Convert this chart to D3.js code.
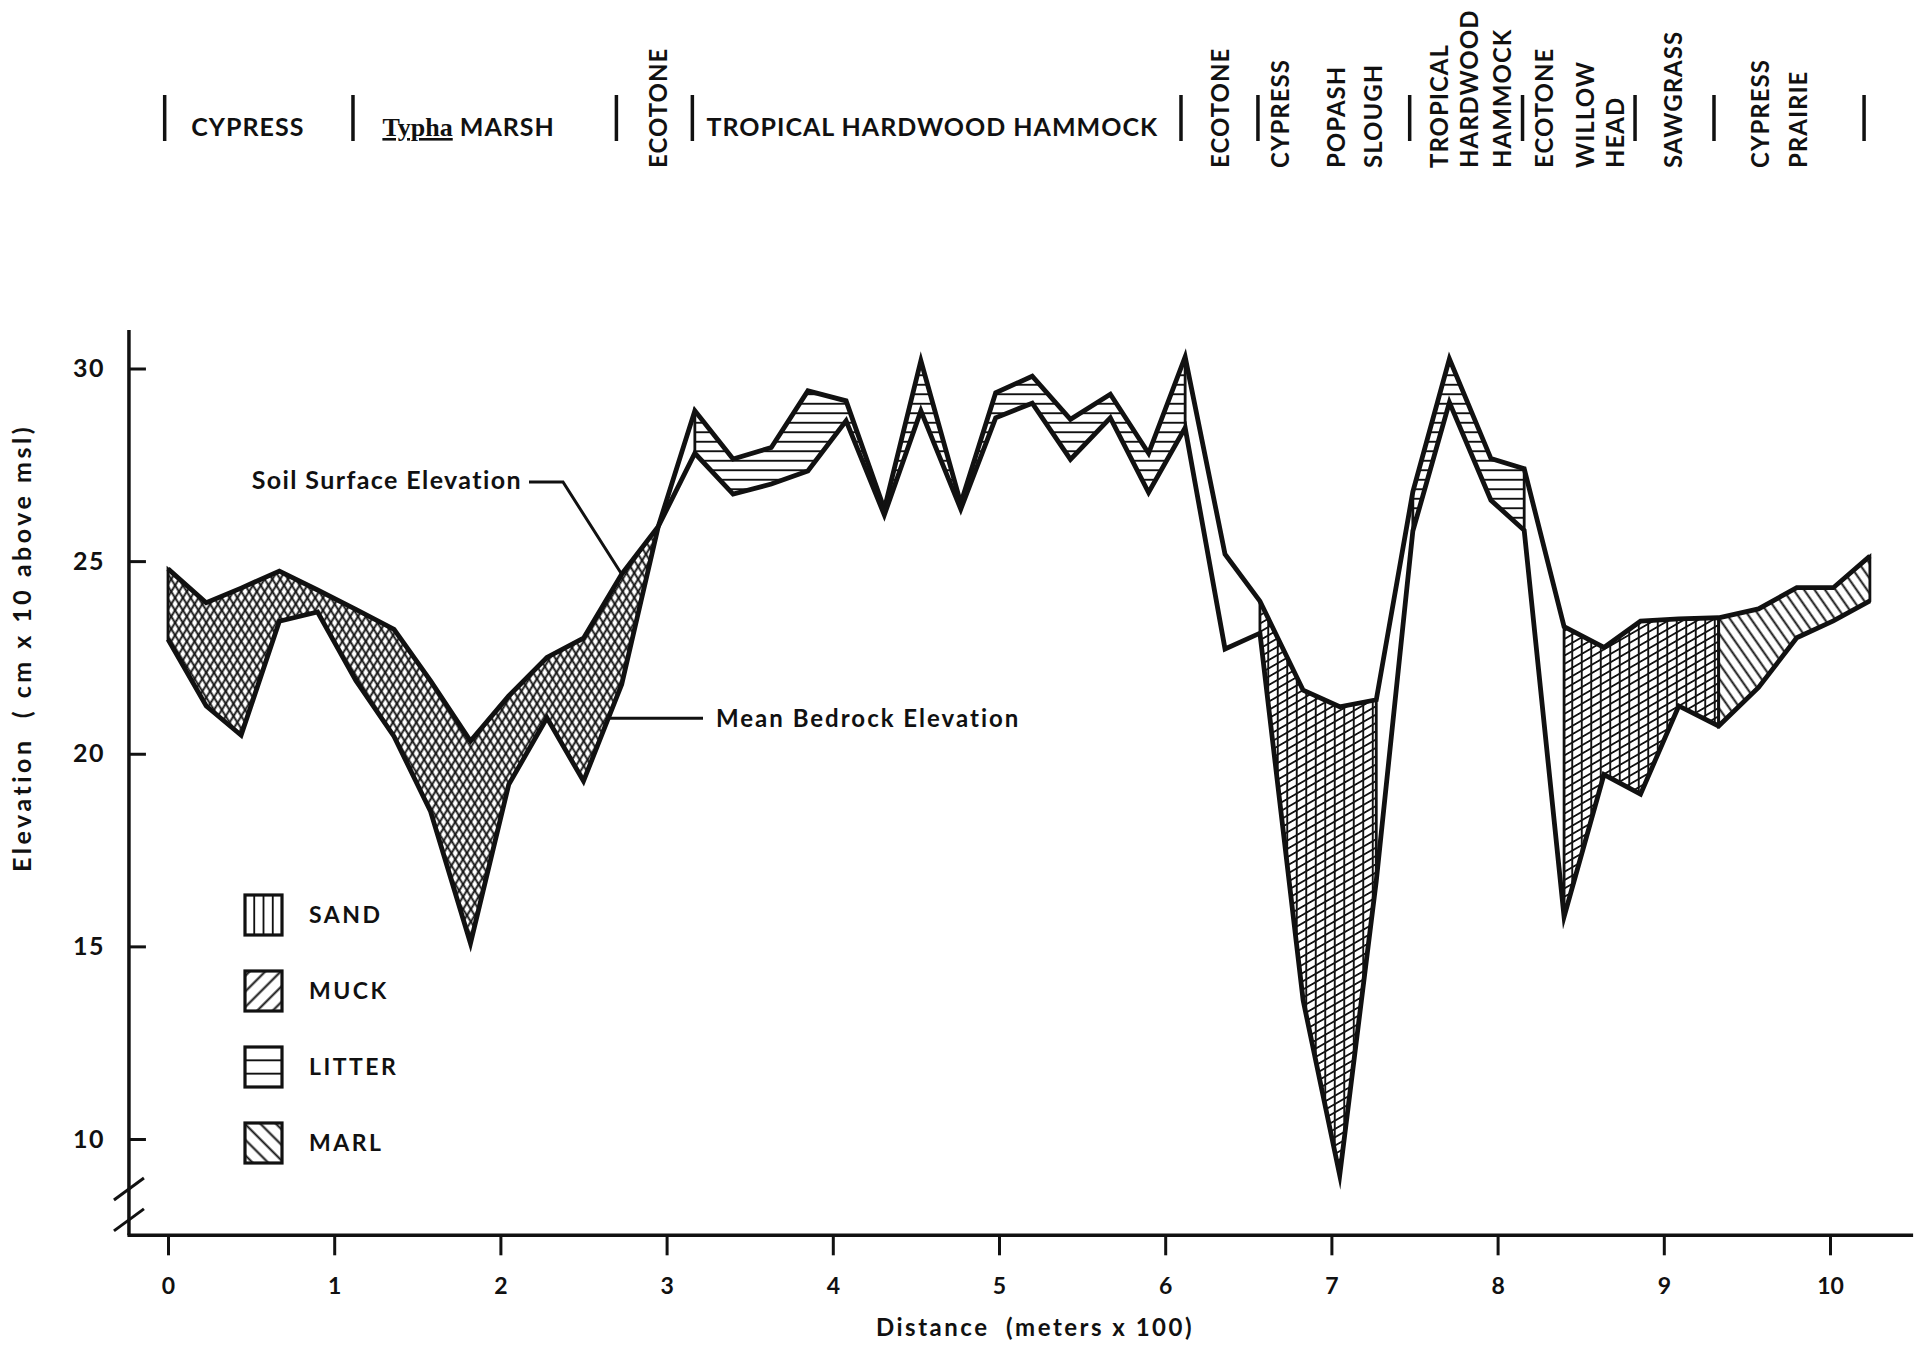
<!DOCTYPE html>
<html>
<head>
<meta charset="utf-8">
<script src="https://cdn.jsdelivr.net/npm/d3@7"></script>
<style>
  body { margin: 0; background: #fff; }
  svg { display: block; background: #fff; }
  text { font-family: Lato, "Open Sans", sans-serif; font-weight: 700; fill: #111; }
</style>
</head>
<body>
<svg id="chart"></svg>
<script>
// stations along the transect (meters x 100)
const distance = [0, 0.23, 0.44, 0.67, 0.90, 1.13, 1.36, 1.58, 1.82, 2.05, 2.28, 2.50, 2.73, 2.95,
  3.17, 3.40, 3.63, 3.85, 4.08, 4.31, 4.53, 4.77, 4.98, 5.20, 5.43, 5.67, 5.90, 6.12,
  6.36, 6.57, 6.83, 7.05, 7.27, 7.49, 7.71, 7.96, 8.16, 8.40, 8.64, 8.86, 9.09, 9.33,
  9.57, 9.80, 10.02, 10.24];

// soil surface elevation (cm x 10 above msl)
const soilSurface = [24.8, 23.92, 24.3, 24.74, 24.25, 23.75, 23.23, 21.89, 20.33, 21.5, 22.5, 23.0, 24.66, 25.9,
  28.9, 27.65, 27.95, 29.42, 29.16, 26.35, 30.2, 26.5, 29.37, 29.8, 28.68, 29.33, 27.8, 30.3,
  25.18, 23.96, 21.65, 21.22, 21.4, 26.8, 30.25, 27.66, 27.4, 23.3, 22.76, 23.44, 23.5, 23.53,
  23.76, 24.31, 24.31, 25.13];

// mean bedrock elevation
const bedrock = [22.97, 21.24, 20.48, 23.44, 23.68, 21.9, 20.45, 18.5, 15.08, 19.2, 20.93, 19.29, 21.8, 25.9,
  27.8, 26.74, 27.0, 27.34, 28.64, 26.2, 28.9, 26.35, 28.72, 29.1, 27.64, 28.72, 26.78, 28.46,
  22.72, 23.13, 13.6, 9.06, 16.7, 25.78, 29.12, 26.58, 25.8, 15.77, 19.46, 18.95, 21.24, 20.72,
  21.72, 23.01, 23.45, 23.97];

// soil layers between the two profiles
const layerType = ["muckMarl", "litter", "sandMuck", "litter", "sandMuck", "marl"];
const layerFrom = [0, 3.17, 6.57, 7.49, 8.40, 9.33];
const layerTo = [2.95, 6.12, 7.27, 8.16, 9.33, 10.24];

const legendLabels = ["SAND", "MUCK", "LITTER", "MARL"];
const xTicks = [0, 1, 2, 3, 4, 5, 6, 7, 8, 9, 10];
const yTicks = [10, 15, 20, 25, 30];

// vegetation zones along the top
const zoneBars = [-0.02, 1.113, 2.698, 3.155, 6.095, 6.558, 7.471, 8.15, 8.827, 9.302, 10.205];
const hLabelText = ["CYPRESS", "Typha MARSH", "TROPICAL HARDWOOD HAMMOCK"];
const hLabelAt = [0.14, 1.29, 3.24];
const vLabelText = ["ECOTONE", "ECOTONE", "CYPRESS", "POPASH", "SLOUGH", "TROPICAL", "HARDWOOD",
  "HAMMOCK", "ECOTONE", "WILLOW", "HEAD", "SAWGRASS", "CYPRESS", "PRAIRIE"];
const vLabelAt = [2.95, 6.33, 6.69, 7.03, 7.25, 7.65, 7.83, 8.03, 8.28, 8.53, 8.71, 9.06, 9.58, 9.81];

const ink = "#111";
const W = 1927, H = 1346;

const svg = d3.select("#chart")
  .attr("width", W)
  .attr("height", H)
  .attr("viewBox", "0 0 " + W + " " + H);

const x = d3.scaleLinear().domain([0, 10]).range([168, 1830]);
const y = d3.scaleLinear().domain([10, 30]).range([1139, 368.5]);

const axisBase = 7.5, axisTop = 31;
const axisStart = -0.235, axisEnd = 10.5;

const defs = svg.append("defs");

function hatch(id, angle, spacing, offset, width) {
  const p = defs.append("pattern")
    .attr("id", id)
    .attr("patternUnits", "userSpaceOnUse")
    .attr("width", 40)
    .attr("height", spacing)
    .attr("y", offset || 0)
    .attr("patternTransform", "rotate(" + (-angle) + ")");
  p.append("line")
    .attr("x1", 0).attr("x2", 40)
    .attr("y1", spacing / 2).attr("y2", spacing / 2)
    .attr("stroke", ink)
    .attr("stroke-width", width || 1.8);
}

hatch("h-muck", 58, 6.6);
hatch("h-marl", 122, 6.6);
hatch("h-litter", 0, 9.5);
hatch("h-sand", 90, 9.5);
hatch("h-muck30", 30, 7.2);
hatch("h-marl55", 125, 8.6);

const hatchOf = {
  muckMarl: ["h-muck", "h-marl"],
  litter: ["h-litter"],
  sandMuck: ["h-sand", "h-muck30"],
  marl: ["h-marl55"]
};

const stations = distance.map((d, i) => ({ d: d, top: soilSurface[i], bot: bedrock[i] }));

const chart = svg.append("g");

// layer fills
const area = d3.area()
  .x(s => x(s.d))
  .y0(s => y(s.bot))
  .y1(s => y(s.top));

layerType.forEach((t, i) => {
  const pts = stations.filter(s => s.d >= layerFrom[i] - 1e-6 && s.d <= layerTo[i] + 1e-6);
  hatchOf[t].forEach(pid => {
    chart.append("path")
      .attr("d", area(pts))
      .attr("fill", "url(#" + pid + ")");
  });
  chart.append("path")
    .attr("d", area(pts))
    .attr("fill", "none")
    .attr("stroke", ink)
    .attr("stroke-width", 2.8)
    .attr("stroke-linejoin", "miter");
});

// profiles
const topLine = d3.line().x(s => x(s.d)).y(s => y(s.top));
const botLine = d3.line().x(s => x(s.d)).y(s => y(s.bot));

[topLine, botLine].forEach(fn => {
  chart.append("path")
    .datum(stations)
    .attr("d", fn)
    .attr("fill", "none")
    .attr("stroke", ink)
    .attr("stroke-width", 4.8)
    .attr("stroke-linejoin", "miter")
    .attr("stroke-miterlimit", 8);
});

// axes
const yAxis = svg.append("g")
  .attr("transform", "translate(" + x(axisStart) + ",0)")
  .call(d3.axisLeft(y).tickValues(yTicks).tickSizeInner(-17).tickSizeOuter(0).tickPadding(24));
yAxis.select(".domain").remove();
yAxis.selectAll(".tick line").attr("stroke", ink).attr("stroke-width", 3);
yAxis.selectAll(".tick text").style("font-size", "25px").style("letter-spacing", "1.5px");

const xAxis = svg.append("g")
  .attr("transform", "translate(0," + y(axisBase) + ")")
  .call(d3.axisBottom(x).tickValues(xTicks).tickSize(20).tickPadding(22));
xAxis.select(".domain").remove();
xAxis.selectAll(".tick line").attr("stroke", ink).attr("stroke-width", 3);
xAxis.selectAll(".tick text").style("font-size", "23px");

svg.append("line")
  .attr("x1", x(axisStart)).attr("x2", x(axisStart))
  .attr("y1", y(axisTop)).attr("y2", y(axisBase))
  .attr("stroke", ink).attr("stroke-width", 3.5);
svg.append("line")
  .attr("x1", x(axisStart) - 1.5).attr("x2", x(axisEnd))
  .attr("y1", y(axisBase)).attr("y2", y(axisBase))
  .attr("stroke", ink).attr("stroke-width", 3.5);

// axis break marks
[8.7, 7.9].forEach(v => {
  const cx = x(axisStart), cy = y(v);
  svg.append("line")
    .attr("x1", cx - 15).attr("y1", cy + 11)
    .attr("x2", cx + 15).attr("y2", cy - 11)
    .attr("stroke", ink).attr("stroke-width", 3);
});

// axis titles
svg.append("text")
  .attr("transform", "translate(22,648) rotate(-90)")
  .attr("text-anchor", "middle")
  .attr("dy", "0.35em")
  .style("font-size", "25px")
  .style("letter-spacing", "3.5px")
  .style("white-space", "pre")
  .text("Elevation  ( cm x 10 above msl)");

svg.append("text")
  .attr("x", 1035)
  .attr("y", 1336)
  .attr("text-anchor", "middle")
  .style("font-size", "24px")
  .style("letter-spacing", "2.5px")
  .style("white-space", "pre")
  .text("Distance  (meters x 100)");

// annotations
const soilAt = 12;
const soilTip = [x(distance[soilAt]), y(soilSurface[soilAt])];
svg.append("path")
  .attr("d", "M529,482 H563 L" + soilTip[0] + "," + soilTip[1])
  .attr("fill", "none").attr("stroke", ink).attr("stroke-width", 3);
svg.append("text")
  .attr("x", 522).attr("y", 480).attr("dy", "0.35em")
  .attr("text-anchor", "end")
  .style("font-size", "25px").style("letter-spacing", "1.4px")
  .text("Soil Surface Elevation");

const bedAnchor = [2.655, 20.92];
svg.append("line")
  .attr("x1", x(bedAnchor[0])).attr("x2", 703)
  .attr("y1", y(bedAnchor[1])).attr("y2", y(bedAnchor[1]))
  .attr("stroke", ink).attr("stroke-width", 3);
svg.append("text")
  .attr("x", 716).attr("y", y(bedAnchor[1])).attr("dy", "0.35em")
  .style("font-size", "24px").style("letter-spacing", "2px")
  .text("Mean Bedrock Elevation");

// legend
const legendHatch = [
  { angle: 90, spacing: 9.25, off: b => 245 - 4.625 },
  { angle: 45, spacing: 11, off: b => 0 },
  { angle: 0, spacing: 13.33, off: b => b - 6.67 },
  { angle: 135, spacing: 11, off: b => 0 }
];
const legendY = legendLabels.map((d, i) => 895 + i * 76);
legendLabels.forEach((lab, i) => {
  const h = legendHatch[i];
  hatch("lg-" + i, h.angle, h.spacing, h.off(legendY[i]), 2);
  svg.append("rect")
    .attr("x", 245).attr("y", legendY[i])
    .attr("width", 37).attr("height", 40)
    .attr("fill", "url(#lg-" + i + ")")
    .attr("stroke", ink).attr("stroke-width", 3.2);
  svg.append("text")
    .attr("x", 309).attr("y", legendY[i] + 20).attr("dy", "0.36em")
    .style("font-size", "23px").style("letter-spacing", "2.5px")
    .text(lab);
});

// zone header
const header = svg.append("g");
zoneBars.forEach(b => {
  header.append("line")
    .attr("x1", x(b)).attr("x2", x(b))
    .attr("y1", 95).attr("y2", 141)
    .attr("stroke", ink).attr("stroke-width", 3.5);
});

hLabelText.forEach((t, i) => {
  const tx = header.append("text")
    .attr("x", x(hLabelAt[i])).attr("y", 136)
    .style("font-size", "25px").style("letter-spacing", "1px");
  if (t.startsWith("Typha")) {
    tx.append("tspan")
      .style("font-family", "'Liberation Serif', serif")
      .style("text-decoration", "underline")
      .style("letter-spacing", "0px")
      .style("font-size", "26px")
      .text("Typha");
    tx.append("tspan").text(t.slice(5));
  } else {
    tx.text(t);
  }
});

vLabelText.forEach((t, i) => {
  header.append("text")
    .attr("transform", "translate(" + x(vLabelAt[i]) + ",168) rotate(-90)")
    .attr("dy", "0.36em")
    .style("font-size", "24px").style("letter-spacing", "1px")
    .text(t);
});
</script>
</body>
</html>
